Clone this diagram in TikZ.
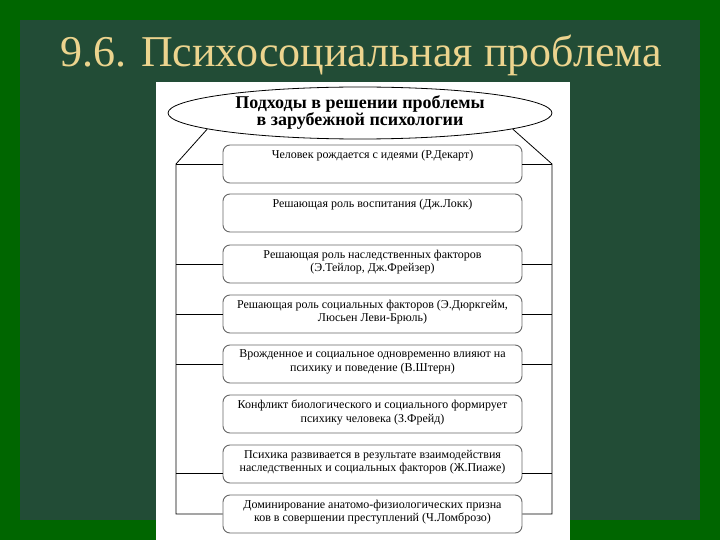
\documentclass[tikz,border=0pt]{standalone}
\usepackage{fontspec}
\setmainfont{Liberation Serif}
\usetikzlibrary{shapes.geometric}

\definecolor{slidegreen}{RGB}{0,102,0}
\definecolor{marble}{RGB}{34,76,54}
\definecolor{titlegold}{RGB}{236,212,142}

\newcommand{\ptxt}[1]{\parbox[c][28pt][t]{296pt}{\centering #1}}

\begin{document}
\begin{tikzpicture}[x=1pt,y=-1pt,
    rail/.style={line width=0.8pt},
    pbox/.style={draw=black!60,line width=0.9pt,rounded corners=7pt,fill=white,
      minimum width=299pt,minimum height=38pt,inner sep=0pt,
      font=\fontsize{12}{13.5}\selectfont},
    head/.style={draw,ellipse,fill=white,line width=0.8pt,
      minimum width=384pt,minimum height=52pt,inner sep=0pt,align=center,
      font=\bfseries\fontsize{18}{17}\selectfont}]
    \useasboundingbox (0,0) rectangle (720,540);
    % slide background
    \fill[slidegreen] (0,0) rectangle (720,540);
    \fill[marble] (20,20) rectangle (700,520);
    \node[text=titlegold,font=\fontsize{44}{44}\selectfont] (title) at (361,55)
      {9.6. Психосоциальная проблема};
    \fill[white] (156,82) rectangle (570,540);
    %
    \node[head] (head) at (360,113) {Подходы в решении проблемы\\в зарубежной психологии};
    \node[pbox] (p1) at (372.5,164) {\ptxt{Человек рождается с идеями (Р.Декарт)}};
    \node[pbox] (p2) at (372.5,213) {\ptxt{Решающая роль воспитания (Дж.Локк)}};
    \node[pbox] (p3) at (372.5,264) {\ptxt{Решающая роль наследственных факторов\\(Э.Тейлор, Дж.Фрейзер)}};
    \node[pbox] (p4) at (372.5,314) {\ptxt{Решающая роль социальных факторов (Э.Дюркгейм,\\Люсьен Леви-Брюль)}};
    \node[pbox] (p5) at (372.5,364) {\ptxt{Врожденное и социальное одновременно влияют на\\психику и поведение (В.Штерн)}};
    \node[pbox] (p6) at (372.5,414) {\ptxt{Конфликт биологического и социального формирует\\психику человека (З.Фрейд)}};
    \node[pbox] (p7) at (372.5,464) {\ptxt{Психика развивается в результате взаимодействия\\наследственных и социальных факторов (Ж.Пиаже)}};
    \node[pbox] (p8) at (372.5,514) {\ptxt{Доминирование анатомо-физиологических призна\\ков в совершении преступлений (Ч.Ломброзо)}};
    %
    \coordinate (lt) at (176,164);
    \coordinate (rt) at (552,164);
    \coordinate (c7l) at ([yshift=-9pt]p7.west);
    \coordinate (c7r) at ([yshift=-9pt]p7.east);
    \draw[rail] (head.186) -- (lt) -- (lt |- p8.west) -- (p8.west);
    \draw[rail] (head.354) -- (rt) -- (rt |- p8.east) -- (p8.east);
    \draw[rail] (p1.west) -- (lt);
    \draw[rail] (p1.east) -- (rt);
    \draw[rail] (p3.west) -- (p3.west -| lt);
    \draw[rail] (p3.east) -- (p3.east -| rt);
    \draw[rail] (p4.west) -- (p4.west -| lt);
    \draw[rail] (p4.east) -- (p4.east -| rt);
    \draw[rail] (p5.west) -- (p5.west -| lt);
    \draw[rail] (p5.east) -- (p5.east -| rt);
    \draw[rail] (c7l) -- (c7l -| lt);
    \draw[rail] (c7r) -- (c7r -| rt);
\end{tikzpicture}
\end{document}
